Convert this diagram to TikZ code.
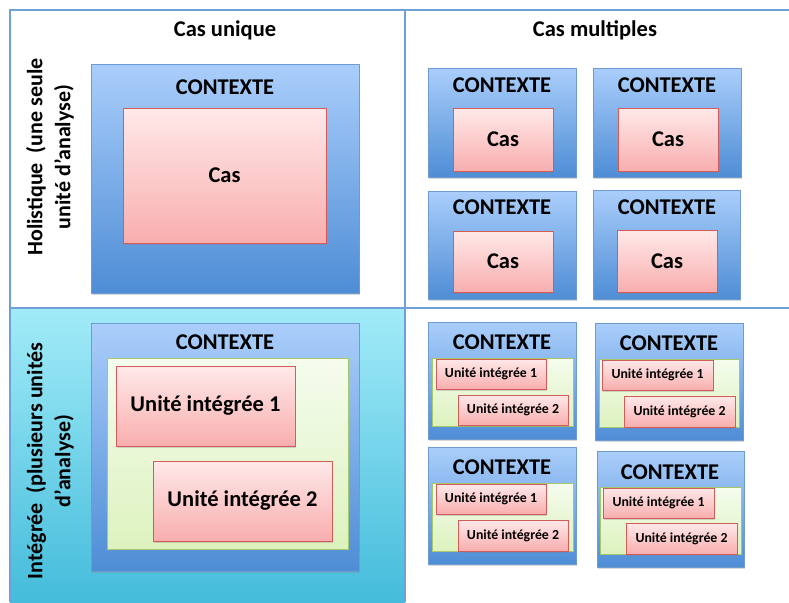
\documentclass[tikz,border=0pt]{standalone}
\usepackage{fontspec}
\setmainfont{Carlito}
\usetikzlibrary{shadows}
\definecolor{framec}{HTML}{6FA0D8}
\definecolor{ctxtop}{HTML}{AACEFB}
\definecolor{ctxbot}{HTML}{4E8DD5}
\definecolor{ctxline}{HTML}{6E9BD0}
\definecolor{pinktop}{HTML}{FFE9E9}
\definecolor{pinkbot}{HTML}{F9AEAE}
\definecolor{pinkline}{HTML}{D55B59}
\definecolor{greentop}{HTML}{F5FCEE}
\definecolor{greenbot}{HTML}{DDF2BE}
\definecolor{greenline}{HTML}{A6C76A}
\definecolor{cyantop}{HTML}{A2EBF8}
\definecolor{cyanbot}{HTML}{44BCDB}
\newcommand\mybox[7]{%
  \node[#1, minimum width={(#5)-(#3)}, minimum height={(#6)-(#4)}] (#2)
    at ({((#3)+(#5))/2},{((#4)+(#6))/2}) {#7};}
\begin{document}
\begin{tikzpicture}[x=1pt,y=-1pt,
  every node/.style={font=\bfseries, inner sep=0pt, outer sep=0pt},
  shad/.style={drop shadow={opacity=0.3, shadow xshift=1pt, shadow yshift=-1.5pt}},
  ctx/.style={draw=ctxline, line width=0.6pt, top color=ctxtop, bottom color=ctxbot, shad},
  cas/.style={draw=pinkline, line width=1pt, top color=pinktop, bottom color=pinkbot, shad, font=\fontsize{22.5}{26}\bfseries\selectfont},
  cassm/.style={cas, font=\fontsize{13.8}{16}\bfseries\selectfont},
  grn/.style={draw=greenline, line width=0.8pt, top color=greentop, bottom color=greenbot},
  big/.style={font=\fontsize{22.5}{26}\bfseries\selectfont},
  side/.style={font=\fontsize{22}{28}\bfseries\selectfont, rotate=90, align=center},
  frame/.style={draw=framec, line width=2.5pt}]
\useasboundingbox (0,0) rectangle (789,602);
% cells
\fill[top color=cyantop, bottom color=cyanbot] (10,308) rectangle (405,602);
\coordinate (tl) at (10,10);
\coordinate (tr) at (789,10);
\coordinate (ml) at (10,308);
\coordinate (mr) at (789,308);
\coordinate (mt) at (405,10);
\coordinate (mb) at (405,602);
\coordinate (bl) at (10,602);
\draw[frame] (tr) -- (tl) -- (bl);
\draw[frame] (mt) -- (mb);
\draw[frame] (ml) -- (mr);
% headings
\node[big] (h1) at (225,30) {Cas unique};
\node[big] (h2) at (595,30) {Cas multiples};
\node[side] (s1) at (50,157) {Holistique\ \ (une seule\\unité d’analyse)};
\node[side] (s2) at (50,461) {Intégrée\ \ (plusieurs unités\\d’analyse)};
% top-left
\mybox{ctx}{c0}{91}{64}{359}{293}{}
\node[big] (c0t) at (225,87) {CONTEXTE};
\mybox{cas}{k0}{123}{108}{326}{243}{\raisebox{-3pt}{Cas}}
% top-right
\mybox{ctx}{c1}{428}{68}{576}{177}{}
\node[big] (c1t) at (502,85) {CONTEXTE};
\mybox{cas}{k1}{453}{108}{553}{171}{\raisebox{-3pt}{Cas}}
\mybox{ctx}{c2}{593}{68}{741}{177}{}
\node[big] (c2t) at (667,85) {CONTEXTE};
\mybox{cas}{k2}{618}{108}{718}{171}{\raisebox{-3pt}{Cas}}
\mybox{ctx}{c3}{428}{191}{576}{299}{}
\node[big] (c3t) at (502,207) {CONTEXTE};
\mybox{cas}{k3}{453}{231}{553}{292}{\raisebox{-3pt}{Cas}}
\mybox{ctx}{c4}{593}{190}{740}{299}{}
\node[big] (c4t) at (667,207) {CONTEXTE};
\mybox{cas}{k4}{617}{230}{717}{292}{\raisebox{-3pt}{Cas}}
% bottom-left
\mybox{ctx}{c5}{91}{323}{359}{571}{}
\node[big] (c5t) at (225,342) {CONTEXTE};
\mybox{grn}{g5}{107}{358}{348}{549}{}
\mybox{cas}{u51}{116}{366}{295}{446}{\raisebox{-3pt}{Unité intégrée 1}}
\mybox{cas}{u52}{153}{461}{332}{541}{\raisebox{-3pt}{Unité intégrée 2}}
% bottom-right
\mybox{ctx}{c6}{428}{322}{576}{439}{}
\node[big] (c6t) at (502,342) {CONTEXTE};
\mybox{grn}{g6}{432}{358}{573}{426}{}
\mybox{cassm}{u61}{436}{359}{546}{389}{Unité intégrée 1}
\mybox{cassm}{u62}{458}{395}{568}{425}{Unité intégrée 2}
\mybox{ctx}{c7}{595}{323}{743}{440}{}
\node[big] (c7t) at (669,343) {CONTEXTE};
\mybox{grn}{g7}{599}{359}{739}{427}{}
\mybox{cassm}{u71}{602}{360}{713}{390}{Unité intégrée 1}
\mybox{cassm}{u72}{624}{396}{735}{427}{Unité intégrée 2}
\mybox{ctx}{c8}{428}{447}{576}{564}{}
\node[big] (c8t) at (502,467) {CONTEXTE};
\mybox{grn}{g8}{432}{483}{573}{551}{}
\mybox{cassm}{u81}{436}{484}{546}{514}{Unité intégrée 1}
\mybox{cassm}{u82}{458}{520}{568}{551}{Unité intégrée 2}
\mybox{ctx}{c9}{597}{451}{744}{567}{}
\node[big] (c9t) at (670,472) {CONTEXTE};
\mybox{grn}{g9}{600}{487}{741}{554}{}
\mybox{cassm}{u91}{603}{488}{714}{518}{Unité intégrée 1}
\mybox{cassm}{u92}{626}{523}{737}{554}{Unité intégrée 2}
\end{tikzpicture}
\end{document}
